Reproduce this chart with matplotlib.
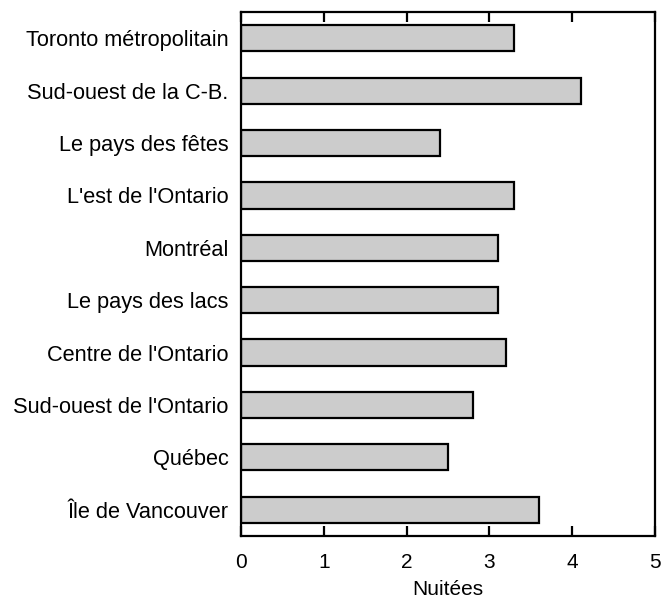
import matplotlib
matplotlib.use("Agg")
import matplotlib.pyplot as plt

regions = [
    "Toronto métropolitain",
    "Sud-ouest de la C-B.",
    "Le pays des fêtes",
    "L'est de l'Ontario",
    "Montréal",
    "Le pays des lacs",
    "Centre de l'Ontario",
    "Sud-ouest de l'Ontario",
    "Québec",
    "Île de Vancouver",
]
nights = [3.3, 4.1, 2.4, 3.3, 3.1, 3.1, 3.2, 2.8, 2.5, 3.6]
xticks = [0, 1, 2, 3, 4, 5]

plt.rcParams["font.family"] = ["Liberation Sans", "DejaVu Sans"]

fig = plt.figure(figsize=(6.61, 5.95), dpi=100)
ax = fig.add_axes([0.3646, 0.0992, 0.6264, 0.8806])

ypos = list(range(len(regions)))
ax.barh(ypos, nights, height=0.5, color="#cccccc", edgecolor="black", linewidth=1.6)

ax.set_ylim(len(regions) - 0.5, -0.5)
ax.set_xlim(0, 5)
ax.set_yticks(ypos)
ax.set_yticklabels(regions, fontsize=15.7)
ax.set_xticks(xticks)
ax.set_xticklabels([str(t) for t in xticks], fontsize=15)
ax.tick_params(axis="y", length=0, pad=9)
ax.tick_params(axis="x", direction="in", length=7, width=1.6, top=True, pad=12)
ax.set_xlabel("Nuitées", fontsize=15, labelpad=6)

for sp in ax.spines.values():
    sp.set_linewidth(1.6)

fig.savefig("out.png", dpi=100)
